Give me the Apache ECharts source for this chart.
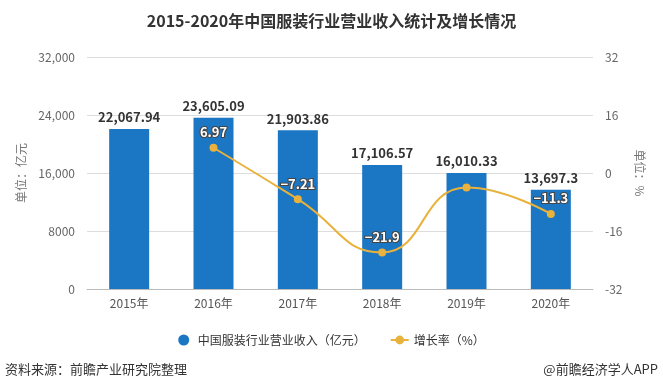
<!DOCTYPE html>
<html><head><meta charset="utf-8">
<script src="https://cdn.jsdelivr.net/npm/echarts@6/dist/echarts.min.js"></script>
<style>html,body{margin:0;padding:0;background:#fff}#c{width:663px;height:392px}</style>
</head><body><div id="c"></div>
<script>
var categories = ['2015年','2016年','2017年','2018年','2019年','2020年'];
var revenue = [22067.94, 23605.09, 21903.86, 17106.57, 16010.33, 13697.3];
var growth = [null, 6.97, -7.21, -21.9, -4.0, -11.3];
var growthLabels = ['', '6.97', '−7.21', '−21.9', '', '−11.3'];
var leftTicks = [0, 8000, 16000, 24000, 32000];
var rightTicks = [-32, -16, 0, 16, 32];

var font = '"Noto Sans CJK SC", "Microsoft YaHei", sans-serif';
var chart = echarts.init(document.getElementById('c'), null, {renderer:'canvas'});
chart.setOption({
  animation: false,
  textStyle: {fontFamily: font},
  title: {
    text: '2015-2020年中国服装行业营业收入统计及增长情况',
    left: 'center', top: 8,
    textStyle: {fontSize: 16, fontWeight: 'bold', color: '#333', fontFamily: font}
  },
  legend: {
    top: 329, left: 'center', itemGap: 24,
    textStyle: {fontSize: 12, color: '#333'},
    data: [
      {name: '中国服装行业营业收入（亿元）', icon: 'circle'},
      {name: '增长率（%）'}
    ],
    itemWidth: 18, itemHeight: 11
  },
  grid: {left: 87, right: 70, top: 57, bottom: 103},
  xAxis: {
    type: 'category', data: categories,
    axisLine: {lineStyle: {color: '#bbb'}},
    axisTick: {show: false},
    axisLabel: {color: '#555', fontSize: 12, margin: 8}
  },
  yAxis: [{
    type: 'value', min: 0, max: 32000, interval: 8000,
    name: '单位：亿元', nameLocation: 'middle', nameGap: 60, nameRotate: 90,
    nameTextStyle: {color: '#777', fontSize: 12},
    axisLine: {show: false}, axisTick: {show: false},
    splitLine: {lineStyle: {color: '#ddd'}},
    axisLabel: {color: '#666', fontSize: 12, margin: 12,
      formatter: function(v){ return v >= 10000 ? v.toLocaleString('en-US') : String(v); }}
  }, {
    type: 'value', min: -32, max: 32, interval: 16,
    name: '单位：%', nameLocation: 'middle', nameGap: 40, nameRotate: -90,
    nameTextStyle: {color: '#777', fontSize: 12},
    axisLine: {show: false}, axisTick: {show: false},
    splitLine: {show: false},
    axisLabel: {color: '#666', fontSize: 12, margin: 12}
  }],
  series: [{
    name: '中国服装行业营业收入（亿元）', type: 'bar', data: revenue, barWidth: 40,
    itemStyle: {color: '#1b76c3'},
    label: {show: true, position: 'top', color: '#333', fontSize: 13, fontWeight: 'bold',
      formatter: function(p){ return p.value.toLocaleString('en-US'); }}
  }, {
    name: '增长率（%）', type: 'line', yAxisIndex: 1, data: growth, smooth: 0.5,
    symbol: 'circle', symbolSize: 8, connectNulls: false,
    lineStyle: {color: '#e8b23c', width: 2},
    itemStyle: {color: '#e8b23c'},
    label: {show: true, position: 'top', color: '#fff', fontSize: 13, fontWeight: 'bold',
      textBorderColor: '#444', textBorderWidth: 2, distance: 5,
      formatter: function(p){ return growthLabels[p.dataIndex]; }}
  }],
  graphic: [{
    type: 'text', left: 5, top: 363,
    style: {text: '资料来源：前瞻产业研究院整理', fill: '#333', font: '13px ' + font}
  }, {
    type: 'text', right: 5, top: 363,
    style: {text: '@前瞻经济学人APP', fill: '#333', font: '13px ' + font}
  }]
});
</script></body></html>
